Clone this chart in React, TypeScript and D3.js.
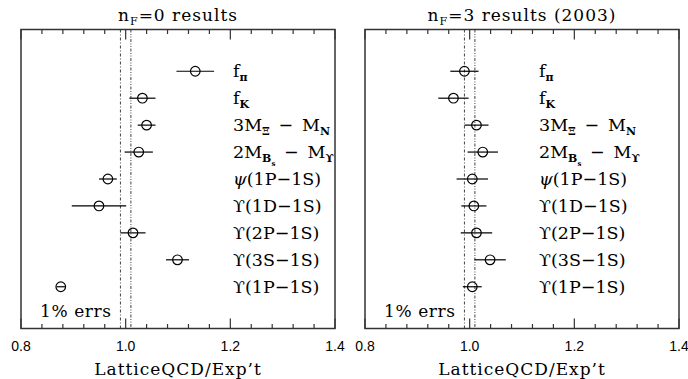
import React, { useEffect, useRef } from 'react';
import * as d3 from 'd3';

// rows, top to bottom; each label is a list of [text, style] pieces
// style: '' normal, 'sub' subscript, 'subsub' second level subscript, 'it' italic
const rowLabels = [
  [['f', ''], ['π', 'sub']],
  [['f', ''], ['K', 'sub']],
  [['3M', ''], ['Ξ', 'sub'], ['\u2002−\u2002M', ''], ['N', 'sub']],
  [['2M', ''], ['B', 'sub'], ['s', 'subsub'], ['\u2002−\u2002M', ''], ['ϒ', 'sub']],
  [['ψ', 'it'], ['(1P−1S)', '']],
  [['ϒ(1D−1S)', '']],
  [['ϒ(2P−1S)', '']],
  [['ϒ(3S−1S)', '']],
  [['ϒ(1P−1S)', '']],
];

const nf0Values = [1.133, 1.032, 1.040, 1.025, 0.966, 0.949, 1.014, 1.099, 0.876];
const nf0Errors = [0.036, 0.025, 0.017, 0.027, 0.017, 0.052, 0.024, 0.022, 0.008];

const nf3Values = [0.990, 0.969, 1.013, 1.025, 1.005, 1.008, 1.013, 1.039, 1.005];
const nf3Errors = [0.027, 0.029, 0.023, 0.029, 0.030, 0.024, 0.030, 0.030, 0.018];

const majorTicks = [0.8, 1.0, 1.2, 1.4];
const minorTicks = d3.range(0.84, 1.4, 0.04).filter(t => Math.abs(t - 1.0) > 0.001 && Math.abs(t - 1.2) > 0.001);
const bandLines = [0.99, 1.01];

const panels = [
  { title: ['n', 'F', '=0 results'], values: nf0Values, errors: nf0Errors, x0: 21, x1: 335, labelX: 233 },
  { title: ['n', 'F', '=3 results (2003)'], values: nf3Values, errors: nf3Errors, x0: 365, x1: 679, labelX: 539 },
];

const W = 688, H = 379;
const top = 29.5, bottom = 328.5;
const serif = 'DejaVu Serif, serif';

const App = () => {
  const ref = useRef(null);

  useEffect(() => {
    const svg = d3.select(ref.current).attr('width', W).attr('height', H);
    svg.selectAll('*').remove();

    const y = d3.scalePoint().domain(d3.range(rowLabels.length)).range([top, bottom]).padding(1.55);

    panels.forEach(p => {
      const x = d3.scaleLinear().domain([0.8, 1.4]).range([p.x0, p.x1]);
      const g = svg.append('g');

      // 1% band
      bandLines.forEach((v, i) => {
        g.append('line')
          .attr('x1', x(v)).attr('x2', x(v))
          .attr('y1', top).attr('y2', bottom)
          .attr('stroke', '#444').attr('stroke-width', 1)
          .attr('stroke-dasharray', i === 0 ? '3,2,1,2' : '3,1.5,1,1.5,1,1.5');
      });

      // frame
      g.append('rect')
        .attr('x', p.x0).attr('y', top)
        .attr('width', p.x1 - p.x0).attr('height', bottom - top)
        .attr('fill', 'none').attr('stroke', '#333').attr('stroke-width', 1.5);

      // ticks top and bottom, pointing in
      const tick = (v, len) => {
        g.append('line').attr('x1', x(v)).attr('x2', x(v)).attr('y1', bottom).attr('y2', bottom - len)
          .attr('stroke', '#333').attr('stroke-width', 1.2);
        g.append('line').attr('x1', x(v)).attr('x2', x(v)).attr('y1', top).attr('y2', top + len)
          .attr('stroke', '#333').attr('stroke-width', 1.2);
      };
      minorTicks.forEach(v => tick(v, 4.5));
      majorTicks.forEach(v => tick(v, 10));

      g.selectAll('.tl')
        .data(majorTicks)
        .enter().append('text')
        .attr('x', d => x(d)).attr('y', 351)
        .attr('text-anchor', 'middle')
        .attr('font-family', 'Liberation Sans, Arial, sans-serif')
        .attr('font-size', 14)
        .text(d => d3.format('.1f')(d));

      g.append('text')
        .attr('x', (p.x0 + p.x1) / 2).attr('y', 375)
        .attr('text-anchor', 'middle')
        .attr('font-family', serif)
        .attr('font-size', 17)
        .attr('letter-spacing', 1)
        .text('LatticeQCD/Exp\u2019t');

      const t = g.append('text')
        .attr('x', (p.x0 + p.x1) / 2).attr('y', 21)
        .attr('text-anchor', 'middle')
        .attr('font-family', serif)
        .attr('font-size', 17)
        .attr('letter-spacing', 1)
        .style('white-space', 'pre');
      t.append('tspan').text(p.title[0]);
      t.append('tspan').attr('font-size', 11).attr('dy', 4).text(p.title[1]);
      t.append('tspan').attr('dy', -4).text(p.title[2]);

      g.append('text')
        .attr('x', p.x0 + 19).attr('y', 317)
        .attr('font-family', serif)
        .attr('font-size', 17)
        .attr('letter-spacing', 0.6)
        .style('white-space', 'pre')
        .text('1% errs');

      // error bars and circles
      p.values.forEach((v, i) => {
        const cy = y(i);
        g.append('line')
          .attr('x1', x(v - p.errors[i])).attr('x2', x(v + p.errors[i]))
          .attr('y1', cy).attr('y2', cy)
          .attr('stroke', '#000').attr('stroke-width', 1.2);
        g.append('circle')
          .attr('cx', x(v)).attr('cy', cy).attr('r', 4.8)
          .attr('fill', 'none').attr('stroke', '#000').attr('stroke-width', 1.2);
      });

      // row labels
      rowLabels.forEach((parts, i) => {
        const txt = g.append('text')
          .attr('x', p.labelX).attr('y', y(i) + 6)
          .attr('font-family', serif)
          .attr('font-size', 17.5)
          .style('white-space', 'pre');
        let level = 0;
        parts.forEach(([s, kind]) => {
          const target = kind === 'sub' ? 1 : kind === 'subsub' ? 2 : 0;
          const dy = target === level ? 0 : (target - level) * 4;
          const ts = txt.append('tspan').attr('dy', dy).text(s);
          if (target === 1) ts.attr('font-size', 11).attr('font-weight', 'bold');
          if (target === 2) ts.attr('font-size', 7).attr('font-weight', 'bold');
          if (kind === 'it') ts.attr('font-style', 'italic');
          level = target;
        });
      });
    });
  }, []);

  return <svg ref={ref} style={{ position: 'absolute', left: 0, top: 0, background: '#fff' }}></svg>;
};

export default App;
